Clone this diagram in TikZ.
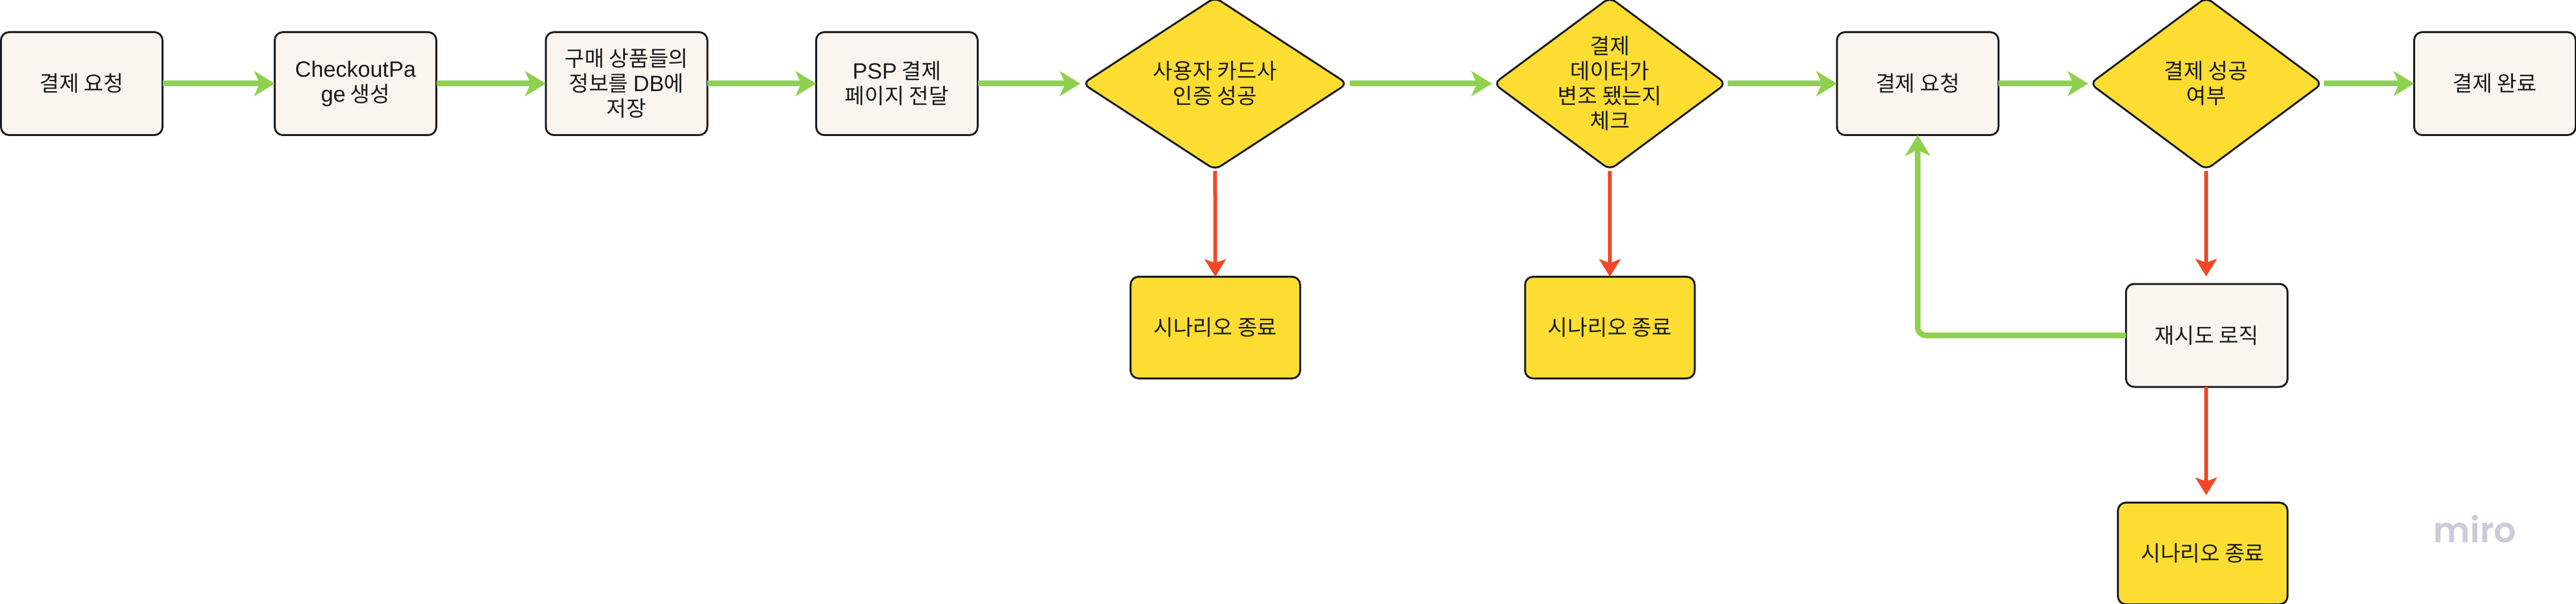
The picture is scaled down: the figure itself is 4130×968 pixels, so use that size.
\documentclass[tikz,border=0pt]{standalone}
\usepackage{fontspec}
\setmainfont{Noto Sans CJK KR}
\newfontfamily\latn[Scale=1.03]{Liberation Sans}
\newfontfamily\logo[BoldFont=Poppins SemiBold]{Poppins}
\usetikzlibrary{arrows.meta,shapes.geometric}
\definecolor{gr}{HTML}{8FD14F}
\definecolor{rd}{HTML}{F24726}
\definecolor{yl}{HTML}{FEDD33}
\definecolor{cr}{HTML}{FAF6EF}
\definecolor{ink}{HTML}{1A1A1A}
\definecolor{mirogray}{HTML}{CCCBD9}
\tikzset{
  base/.style={draw=ink,line width=3pt,rounded corners=13pt,inner sep=0pt,outer sep=0pt,align=center,text=ink,font=\fontsize{34.5}{40}\selectfont},
  cream/.style={base,fill=cr,minimum width=259pt,minimum height=165pt},
  endbox/.style={base,fill=yl,minimum width=272pt,minimum height=163pt},
  dec/.style={base,fill=yl,shape=diamond,rounded corners=11pt,minimum width=#1,minimum height=276pt},
  dectext/.style={align=center,text=ink,font=\fontsize{34.5}{40}\selectfont},
  gline/.style={draw=gr,line width=9pt,-{Stealth[length=33pt,width=40pt,inset=9pt]}},
  rline/.style={draw=rd,line width=6pt,-{Stealth[length=28pt,width=34pt,inset=6pt]}},
}
\begin{document}
\begin{tikzpicture}[x=1pt,y=-1pt]
\useasboundingbox (0,0) rectangle (4130,968);
\fill[white] (0,0) rectangle (4130,968);
\node[cream] (a) at (131,134) {결제 요청};
\node[cream] (b) at (570,134) {{\latn CheckoutPa}\\{\latn ge} 생성};
\node[cream] (c) at (1004.5,134) {구매 상품들의\\정보를 {\latn DB}에\\저장};
\node[cream] (d) at (1438,134) {{\latn PSP} 결제\\페이지 전달};
\node[dec=424pt,label={[dectext]center:사용자 카드사\\인증 성공}] (e) at (1948,134) {};
\node[dec=372pt,label={[dectext]center:결제\\데이터가\\변조 됐는지\\체크}] (f) at (2581,134) {};
\node[cream] (g) at (3074.5,134) {결제 요청};
\node[dec=372pt,label={[dectext]center:결제 성공\\여부}] (h) at (3537,134) {};
\node[cream] (i) at (4000,134) {결제 완료};
\node[endbox] (e1) at (1948.5,525) {시나리오 종료};
\node[endbox] (f1) at (2581,525) {시나리오 종료};
\node[cream] (r) at (3538,537.5) {재시도 로직};
\node[endbox] (h1) at (3531.5,887) {시나리오 종료};
\node[font=\logo\bfseries\fontsize{56}{56}\selectfont,text=mirogray,inner sep=0pt] (m) at (3968,848) {miro};
\draw[gline] (a) -- (b);
\draw[gline] (b) -- (c);
\draw[gline] (c) -- (d);
\draw[gline,shorten >=4pt] (d) -- (e);
\draw[gline,shorten <=4pt,shorten >=3pt] (e) -- (f);
\draw[gline,shorten <=3pt] (f) -- (g);
\draw[gline,shorten >=3pt] (g) -- (h);
\draw[gline,shorten <=3pt] (h) -- (i);
\draw[rline,shorten <=2pt] (e) -- (e1);
\draw[rline,shorten <=2pt] (f) -- (f1);
\draw[rline,shorten <=2pt,shorten >=12pt] (h.south) -- (h.south |- r.north);
\draw[rline,shorten >=12pt] (h.south |- r.south) -- (h.south |- h1.north);
\draw[gline,rounded corners=13pt] (r.west) -| (g.south);
\end{tikzpicture}
\end{document}
